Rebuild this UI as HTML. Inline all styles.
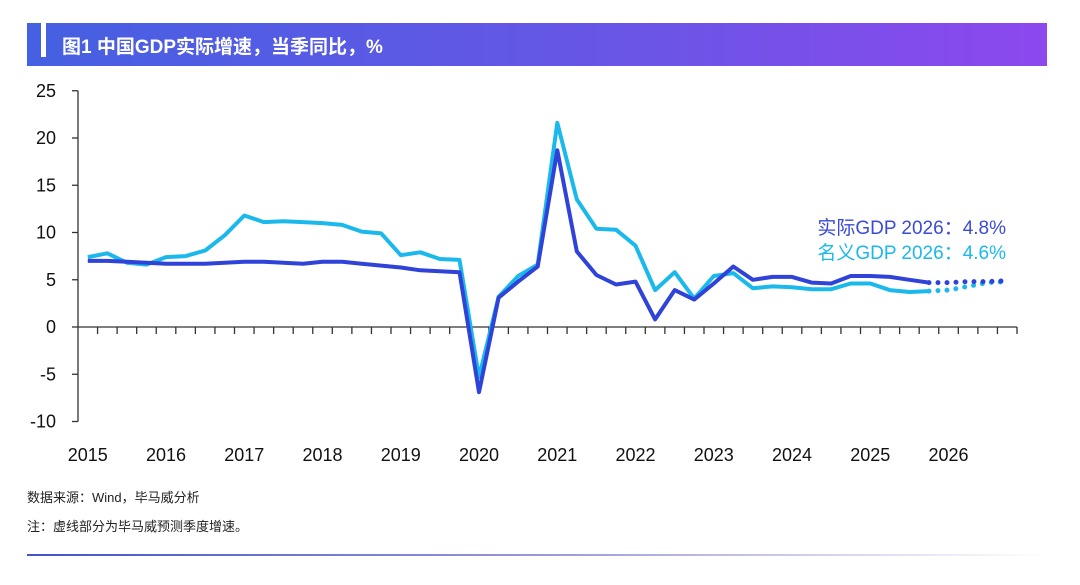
<!DOCTYPE html>
<html><head><meta charset="utf-8">
<style>
body{margin:0;width:1080px;height:585px;background:#fff;overflow:hidden;font-family:"Liberation Sans","Noto Sans CJK SC",sans-serif;position:relative}
#title{position:absolute;left:27px;top:23px;width:1020px;height:43px;background:linear-gradient(90deg,#4560e2,#6a55e6 60%,#8d48ee)}
#stripe{position:absolute;left:14px;top:0;width:5px;height:34px;background:#fff}
#title span{position:absolute;left:35px;top:9px;color:#fff;font-weight:bold;font-size:19px;font-family:"Liberation Sans","Noto Sans CJK SC",sans-serif}
.note{position:absolute;left:27px;font-size:13px;color:#222}
#bline{position:absolute;left:27px;top:554px;width:1020px;height:2px;background:linear-gradient(90deg,#3f55c8,#9a96d8 50%,rgba(255,255,255,0))}
svg{position:absolute;left:0;top:0}
</style></head><body>
<div id="title"><div id="stripe"></div><span>图1 中国GDP实际增速，当季同比，%</span></div>
<svg id="chart" width="1080" height="585"></svg>
<div class="note" style="top:487px">数据来源：Wind，毕马威分析</div>
<div class="note" style="top:516px">注：虚线部分为毕马威预测季度增速。</div>
<div id="bline"></div>
<script>
const years = ["2015","2016","2017","2018","2019","2020","2021","2022","2023","2024","2025","2026"];
const yTicks = [25,20,15,10,5,0,-5,-10];
const realActual = [7.0,7.0,6.9,6.8, 6.7,6.7,6.7,6.8, 6.9,6.9,6.8,6.7, 6.9,6.9,6.7,6.5, 6.3,6.0,5.9,5.8, -6.9,3.1,4.8,6.4, 18.7,8.0,5.5,4.5, 4.8,0.8,3.9,2.9, 4.6,6.4,5.0,5.3, 5.3,4.7,4.6,5.4, 5.4,5.3,5.0,4.7];
const nominalActual = [7.4,7.8,6.8,6.6, 7.4,7.5,8.1,9.7, 11.8,11.1,11.2,11.1, 11.0,10.8,10.1,9.9, 7.6,7.9,7.2,7.1, -5.3,3.2,5.4,6.6, 21.6,13.5,10.4,10.3, 8.6,3.9,5.8,3.0, 5.4,5.7,4.1,4.3, 4.2,4.0,4.0,4.6, 4.6,3.9,3.7,3.8];
const realForecast = [4.7,4.8,4.8,4.9];
const nominalForecast = [3.9,4.3,4.7,4.8];
const svg=document.getElementById('chart');
const NS='http://www.w3.org/2000/svg';
const x0=78,x1=1017,nQ=48,qw=(x1-x0)/nQ;
const y0px=327,ppu=9.45;
const X=i=>x0+qw*(i+0.5);
const Y=v=>y0px-v*ppu;
function mk(t,a){const e=document.createElementNS(NS,t);for(const k in a)e.setAttribute(k,a[k]);svg.appendChild(e);return e;}
let e=mk('line',{x1:x0,y1:Y(25),x2:x0,y2:Y(-10),stroke:'#333','stroke-width':1.3});


e=mk('line',{x1:x0,y1:Y(0),x2:x1,y2:Y(0),stroke:'#333','stroke-width':1.3});


yTicks.forEach(v=>{
  let t=mk('line',{x1:x0-6,y1:Y(v),x2:x0,y2:Y(v),stroke:'#333','stroke-width':1.3});
  
  
  let l=mk('text',{x:56,y:Y(v)+6,'text-anchor':'end','font-size':18,fill:'#111'});
  l.textContent=v;
  
  
});
for(let i=1;i<=nQ;i++){
  let t=mk('line',{x1:x0+qw*i,y1:Y(0),x2:x0+qw*i,y2:Y(0)+7,stroke:'#333','stroke-width':1.3});
  
  
}
years.forEach((yr,k)=>{
  let l=mk('text',{x:X(k*4),y:461,'text-anchor':'middle','font-size':18,fill:'#111'});
  l.textContent=yr;
  
  
});
function pts(arr,off){return arr.map((v,i)=>X(i+off).toFixed(1)+','+Y(v).toFixed(1)).join(' ');}
const cR='#2f43d8',cN='#1bb8ec';
e=mk('polyline',{points:pts([nominalActual[43]].concat(nominalForecast),43),fill:'none',stroke:cN,'stroke-width':5,'stroke-dasharray':'0 9','stroke-linecap':'round'});


e=mk('polyline',{points:pts(nominalActual,0),fill:'none',stroke:cN,'stroke-width':4,'stroke-linejoin':'round'});


e=mk('polyline',{points:pts([realActual[43]].concat(realForecast),43),fill:'none',stroke:cR,'stroke-width':5,'stroke-dasharray':'0 9','stroke-linecap':'round'});


e=mk('polyline',{points:pts(realActual,0),fill:'none',stroke:cR,'stroke-width':4,'stroke-linejoin':'round'});


let a=mk('text',{x:1006,y:234,'text-anchor':'end','font-size':19,fill:'#3a4bd6'});
a.textContent='实际GDP 2026：4.8%';


a=mk('text',{x:1006,y:259,'text-anchor':'end','font-size':19,fill:'#1bb8ec'});
a.textContent='名义GDP 2026：4.6%';


</script>
</body></html>
